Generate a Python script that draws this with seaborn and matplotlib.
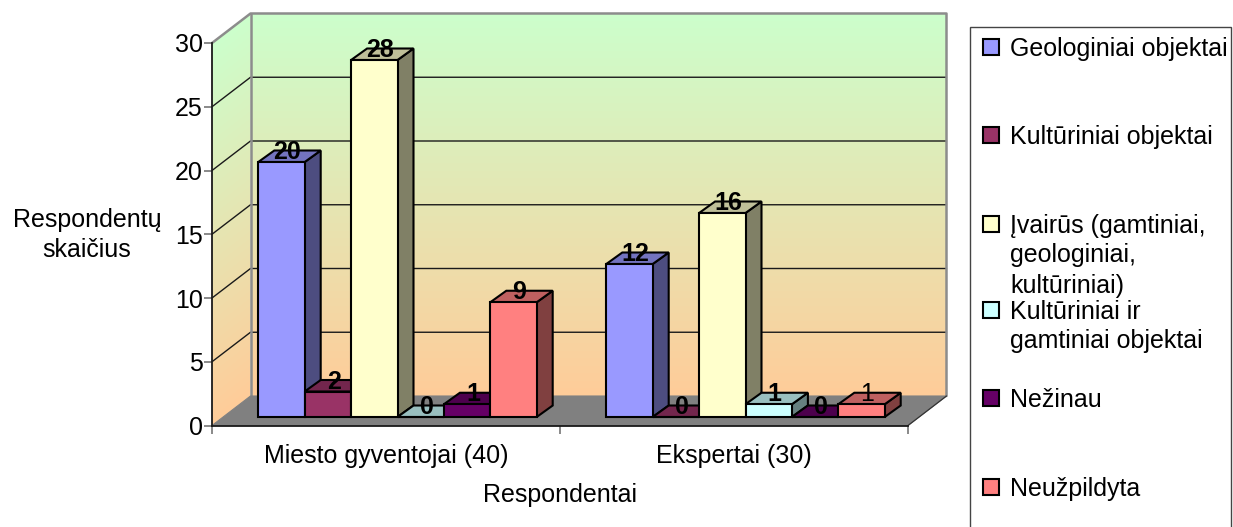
import numpy as np
import pandas as pd
import matplotlib
matplotlib.use("Agg")
import matplotlib.pyplot as plt
from matplotlib.patches import Polygon, Rectangle
import seaborn as sns

categories = ["Miesto gyventojai (40)", "Ekspertai (30)"]
series_names = ["Geologiniai objektai", "Kultūriniai objektai",
                "Įvairūs (gamtiniai, geologiniai, kultūriniai)",
                "Kultūriniai ir gamtiniai objektai", "Nežinau", "Neužpildyta"]
geologiniai = [20, 12]
kulturiniai = [2, 0]
ivairus = [28, 16]
kult_gamt = [0, 1]
nezinau = [1, 0]
neuzpildyta = [9, 1]
all_values = [geologiniai, kulturiniai, ivairus, kult_gamt, nezinau, neuzpildyta]
colors = ["#9999FF", "#993366", "#FFFFCC", "#CCFFFF", "#660066", "#FF8080"]
yticks = [0, 5, 10, 15, 20, 25, 30]

legend_lines = [["Geologiniai objektai"], ["Kultūriniai objektai"],
                ["Įvairūs (gamtiniai,", "geologiniai,", "kultūriniai)"],
                ["Kultūriniai ir", "gamtiniai objektai"], ["Nežinau"], ["Neužpildyta"]]
legend_y_px = [47, 135, 224, 310, 398, 487]

W, H = 1233, 527
sns.set_style("white")
plt.rcParams["font.family"] = ["Liberation Sans", "DejaVu Sans"]
plt.rcParams["font.size"] = 18
plt.rcParams["text.color"] = "black"
plt.rcParams["axes.labelcolor"] = "black"
plt.rcParams["xtick.labelcolor"] = "black"
plt.rcParams["ytick.labelcolor"] = "black"
fig = plt.figure(figsize=(W / 100, H / 100), dpi=100, facecolor="white")


def rect_px(x0, x1, ytop, ybot):
    return [x0 / W, 1 - ybot / H, (x1 - x0) / W, (ybot - ytop) / H]


# front plane of the 3D box
ax = fig.add_axes(rect_px(212, 908, 43, 425.5))
ax.set_xlim(-0.5, 1.5)
ax.set_ylim(0, 30)
ax.patch.set_alpha(0)
px_x = 2 / 696
px_y = 30 / 382.5
wx, wy = 38.5 * px_x, 29.5 * px_y  # wall depth in data units
bx, by = 16 * px_x, 11.5 * px_y    # bar depth in data units

TOP = np.array([204, 255, 204]) / 255
BOT = np.array([255, 204, 153]) / 255


def ramp(t):
    return BOT[None, None, :] + (TOP - BOT)[None, None, :] * t[:, :, None]


# back wall
back_t = np.linspace(1, 0, 400)[:, None]
im = ax.imshow(ramp(back_t), extent=(-0.5 + wx, 1.5 + wx, wy, 30 + wy), aspect="auto",
               zorder=0, interpolation="bilinear")
im.set_clip_on(False)

# side wall (gradient skewed along the depth)
ys = np.linspace(30 + wy, 0, 420)
fr = np.linspace(0, 1, 40)
side_t = np.clip((ys[:, None] - fr[None, :] * wy) / 30, 0, 1)
side_poly = Polygon([(-0.5, 0), (-0.5 + wx, wy), (-0.5 + wx, 30 + wy), (-0.5, 30)],
                    closed=True, transform=ax.transData, fc="none", ec="none", clip_on=False)
ax.add_patch(side_poly)
im2 = ax.imshow(ramp(side_t), extent=(-0.5, -0.5 + wx, 0, 30 + wy), aspect="auto",
                zorder=0, interpolation="bilinear")
im2.set_clip_box(fig.bbox)
im2.set_clip_path(side_poly)
ax.set_xlim(-0.5, 1.5)
ax.set_ylim(0, 30)

# grid lines on walls
for v in yticks[1:-1]:
    ax.plot([-0.5, -0.5 + wx, 1.5 + wx], [v, v + wy, v + wy], color="#1a1a1a", lw=1.0,
            zorder=0.5, clip_on=False)
# wall frame
GRAY = "#8c8c8c"
ax.plot([-0.5, -0.5 + wx, 1.5 + wx, 1.5 + wx], [30, 30 + wy, 30 + wy, wy], color=GRAY, lw=1.8,
        zorder=0.6, clip_on=False)
ax.plot([-0.5 + wx, -0.5 + wx], [wy, 30 + wy], color=GRAY, lw=1.8, zorder=0.6, clip_on=False)
# floor
ax.add_patch(Polygon([(-0.5, 0), (1.5, 0), (1.5 + wx, wy), (-0.5 + wx, wy)], closed=True,
                     fc="#808080", ec="#808080", lw=0.8, zorder=1, clip_on=False))
ax.plot([1.5, 1.5 + wx], [0, wy], color="#333333", lw=0.9, zorder=1.1, clip_on=False)

for s in ["top", "right"]:
    ax.spines[s].set_visible(False)
for s in ["left", "bottom"]:
    ax.spines[s].set_visible(True)
    ax.spines[s].set_color("#1a1a1a")
    ax.spines[s].set_linewidth(1.3)

ax.set_yticks(yticks)
ax.set_yticklabels([str(v) for v in yticks])
ax.tick_params(axis="y", left=True, length=5.8, width=1.3, color="#808080", pad=1, labelsize=18)
ax.set_xticks([-0.5, 0.5, 1.5])
ax.set_xticklabels(["", "", ""])
ax.tick_params(axis="x", which="major", bottom=True, length=5.8, width=1.3, color="#808080")
ax.set_xticks([0, 1], minor=True)
ax.set_xticklabels(categories, minor=True)
ax.tick_params(axis="x", which="minor", bottom=False, length=0, pad=13, labelsize=18)
ax.grid(False)
ax.set_xlabel("Respondentai", fontsize=18)
ax.xaxis.set_label_coords((560 - 212) / 696, -(495 - 425.5) / 382.5)
ax.xaxis.label.set_va("center")
ax.set_ylabel("Respondentų\nskaičius", fontsize=18, rotation=0, ha="center", va="center",
              linespacing=1.35)
ax.yaxis.set_label_coords((87 - 212) / 696, (425.5 - 235) / 382.5)

# bars sit a little into the floor: overlaid axes shifted in depth
bar_ax = fig.add_axes(rect_px(223.5, 919.5, 34.5, 417), sharex=None)
bar_ax.patch.set_alpha(0)
df = pd.DataFrame({
    "cat": [c for _ in series_names for c in categories],
    "series": [n for n in series_names for _ in categories],
    "value": [v for vals in all_values for v in vals],
})
sns.barplot(data=df, x="cat", y="value", hue="series", order=categories, hue_order=series_names,
            palette=colors, width=0.8, gap=0, saturation=1, edgecolor="black", linewidth=1.5,
            legend=False, ax=bar_ax)
bar_ax.set_xlim(-0.5, 1.5)
bar_ax.set_ylim(0, 30)
bar_ax.axis("off")


def shade(c, f):
    return tuple(np.array(matplotlib.colors.to_rgb(c)) * f)


for h, cont in enumerate(bar_ax.containers):
    for c, bar in enumerate(cont):
        z = 3 + 0.1 * (c * 6 + h)
        x0, w, t = bar.get_x(), bar.get_width(), bar.get_height()
        bar.set_zorder(z + 0.02)
        bar.set_clip_on(False)
        bar_ax.add_patch(Polygon([(x0 + w, 0), (x0 + w + bx, by), (x0 + w + bx, t + by), (x0 + w, t)],
                                 closed=True, fc=shade(colors[h], 0.5), ec="black", lw=1.5,
                                 zorder=z, clip_on=False))
        bar_ax.add_patch(Polygon([(x0, t), (x0 + w, t), (x0 + w + bx, t + by), (x0 + bx, t + by)],
                                 closed=True, fc=shade(colors[h], 0.75), ec="black", lw=1.5,
                                 zorder=z + 0.01, clip_on=False))
        regular = (h == 5 and c == 1)
        bar_ax.annotate(f"{int(t)}", (x0 + w / 2, t), xytext=(6 / 1.389, 3 / 1.389),
                        textcoords="offset points", ha="center", va="baseline", fontsize=18,
                        fontweight="normal" if regular else "bold", color="black",
                        zorder=10, annotation_clip=False)

# legend
fig.add_artist(Rectangle((970 / W, -0.02), (1231 - 970) / W, 1 - 27 / H + 0.02,
                         transform=fig.transFigure, fc="white", ec="#444444", lw=1.0, zorder=0.5))
LINE_PX = 31
for i, lines in enumerate(legend_lines):
    y_mid = legend_y_px[i]
    leg = fig.legend(handles=[bar_ax.containers[i]], labels=[lines[0]], loc="upper left",
                     bbox_to_anchor=(982.7 / W, 1 - (y_mid - 10) / H), frameon=False,
                     borderpad=0, borderaxespad=0, handlelength=0.64, handleheight=0.64,
                     handletextpad=0.46, fontsize=18)
    leg.set_zorder(5)
    for k, extra in enumerate(lines[1:], start=1):
        fig.text(1010 / W, 1 - (y_mid + k * LINE_PX) / H, extra, fontsize=18, ha="left",
                 va="center", zorder=5, color="black")

fig.savefig("out.png", dpi=100)
